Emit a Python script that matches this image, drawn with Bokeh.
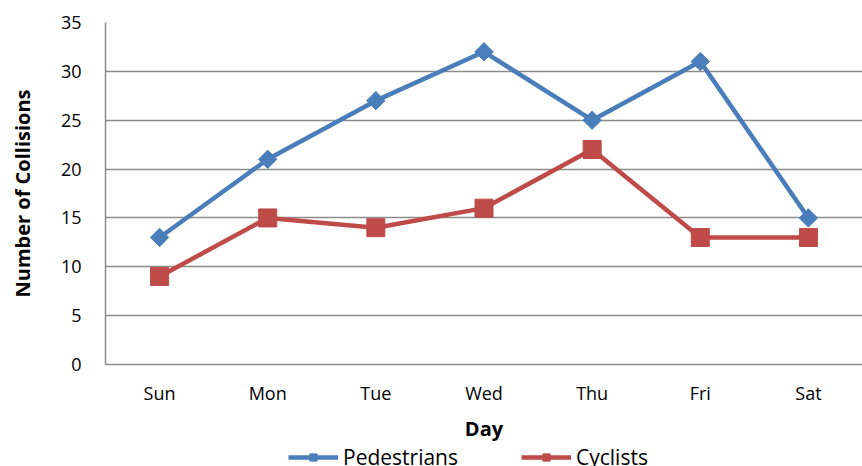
import math
from bokeh.plotting import figure
from bokeh.layouts import column
from bokeh.models import ColumnDataSource, Legend, LegendItem, FixedTicker, Range1d
from bokeh.embed import file_html
from bokeh.resources import INLINE

days = ["Sun", "Mon", "Tue", "Wed", "Thu", "Fri", "Sat"]
pedestrians = [13, 21, 27, 32, 25, 31, 15]
cyclists = [9, 15, 14, 16, 22, 13, 13]
y_ticks = [0, 5, 10, 15, 20, 25, 30, 35]

FONT = "Open Sans"
BLUE = "#4a7ebb"
RED = "#be4b48"
GRID = "#8c8c8c"

src = ColumnDataSource(dict(day=days, ped=pedestrians, cyc=cyclists))


def draw_series(fig, lw=4.5):
    l1 = fig.line("day", "ped", source=src, line_color=BLUE, line_width=lw)
    m1 = fig.scatter("day", "ped", source=src, marker="square", size=13,
                     angle=math.pi / 4, fill_color=BLUE, line_color=BLUE)
    l2 = fig.line("day", "cyc", source=src, line_color=RED, line_width=lw)
    m2 = fig.scatter("day", "cyc", source=src, marker="square", size=18,
                     fill_color=RED, line_color=RED)
    return l1, m1, l2, m2


p = figure(x_range=days, y_range=Range1d(0, 35), width=862, height=446,
           output_backend="svg", toolbar_location=None,
           min_border_left=105, min_border_right=0, min_border_top=22,
           min_border_bottom=82)
p.outline_line_color = None
p.background_fill_color = "white"
p.border_fill_color = "white"

draw_series(p)

p.yaxis.ticker = FixedTicker(ticks=y_ticks)
p.ygrid.grid_line_color = GRID
p.ygrid.grid_line_width = 1.5
p.xgrid.grid_line_color = None

for ax in (p.xaxis[0], p.yaxis[0]):
    ax.axis_line_color = GRID
    ax.axis_line_width = 1.5
    ax.major_tick_line_color = None
    ax.minor_tick_line_color = None
    ax.major_tick_out = 0
    ax.major_tick_in = 0
    ax.major_label_text_font = FONT
    ax.major_label_text_font_size = "18px"
    ax.major_label_text_color = "#000000"
    ax.axis_label_text_font = FONT
    ax.axis_label_text_font_size = "20px"
    ax.axis_label_text_font_style = "bold"
    ax.axis_label_text_color = "#000000"

p.yaxis.axis_label = "Number of Collisions"
p.yaxis.major_label_standoff = 24
p.yaxis.axis_label_standoff = 22
p.xaxis.axis_label = "Day"
p.xaxis.major_label_standoff = 16
p.xaxis.axis_label_standoff = 7

# legend strip below the chart (its own series renderers sit outside its view)
lg = figure(x_range=days, y_range=Range1d(100, 101), width=862, height=20,
            output_backend="svg", toolbar_location=None,
            x_axis_location=None, y_axis_location=None,
            min_border_left=0, min_border_right=0, min_border_top=0,
            min_border_bottom=0)
lg.outline_line_color = None
lg.xgrid.grid_line_color = None
lg.ygrid.grid_line_color = None
r1, s1, r2, s2 = draw_series(lg)

legend = Legend(items=[LegendItem(label="Pedestrians", renderers=[r1, s1]),
                       LegendItem(label="Cyclists", renderers=[r2, s2])],
                orientation="horizontal", location=(183, -5),
                label_text_font=FONT, label_text_font_size="21px",
                label_text_color="#000000",
                glyph_width=50, glyph_height=18, label_standoff=5,
                spacing=63, padding=0, margin=0,
                border_line_color=None, background_fill_alpha=0)
lg.add_layout(legend, "center")

layout = column(p, lg, spacing=0)
open("out.html", "w").write(file_html(layout, INLINE))
